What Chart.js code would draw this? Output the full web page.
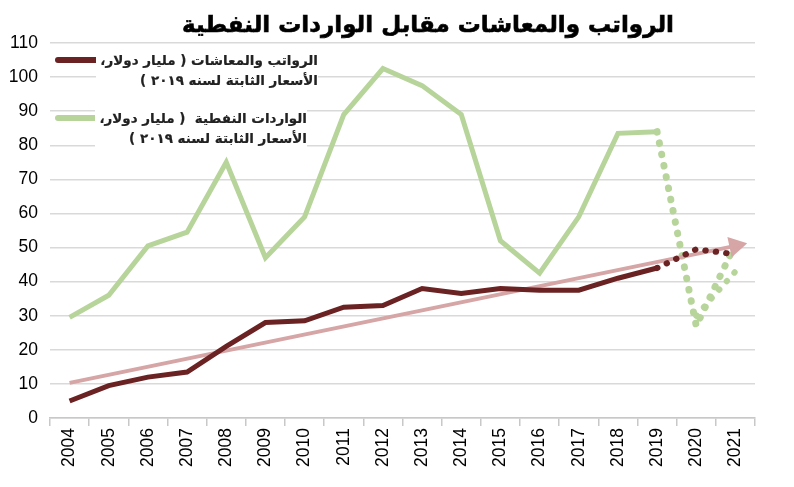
<!DOCTYPE html>
<html lang="ar">
<head>
  <meta charset="UTF-8" />
  <title>الرواتب والمعاشات مقابل الواردات النفطية</title>
  <script src="https://cdn.jsdelivr.net/npm/chart.js"></script>
  <style>
    body { margin: 0; background: #fff; }
    #wrap { position: relative; width: 794px; height: 487px; }
    #title {
      position: absolute; left: 0; width: 856px; top: 11px;
      text-align: center; font: bold 23px 'DejaVu Sans', sans-serif; color: #000;
      direction: rtl; -webkit-text-stroke: 0.6px #000;
    }
    .leg { position: absolute; font: bold 13.5px 'DejaVu Sans', sans-serif; color: #222;
           direction: rtl; text-align: right; line-height: 20px; background: #fff; padding-left: 4px;
           -webkit-text-stroke: 0.2px #222; }
    .sw { position: absolute; height: 6px; border-radius: 3px; }
  </style>
</head>
<body>
<div id="wrap">
  <canvas id="chart" width="794" height="487"></canvas>
  <div id="title">الرواتب والمعاشات مقابل الواردات النفطية</div>
  <div class="sw" style="left:55px;top:57px;width:49px;background:#6b2222"></div>
  <div class="leg" style="right:476px;top:50px">الرواتب والمعاشات ( مليار دولار،<br>الأسعار الثابتة لسنه ٢٠١٩ )</div>
  <div class="sw" style="left:55px;top:115px;width:49px;background:#b7d49b"></div>
  <div class="leg" style="right:487px;top:108px">الواردات النفطية&nbsp; ( مليار دولار،<br>الأسعار الثابتة لسنه ٢٠١٩ )</div>
</div>
<script>
  // categories and series
  const years = ['2004','2005','2006','2007','2008','2009','2010','2011','2012',
                 '2013','2014','2015','2016','2017','2018','2019','2020','2021'];
  const salaries = [5, 9.5, 12, 13.5, 21, 28, 28.5, 32.5, 33, 38, 36.5, 38, 37.5, 37.5, 41, 44, null, null];
  const salariesForecast = [null, null, null, null, null, null, null, null, null, null, null, null, null, null, null, 44, 49.5, 48];
  const oil = [29.5, 36, 50.5, 54.5, 75, 47, 59, 89, 102.5, 97.5, 89, 52, 42.5, 59, 83.5, 84, null, null];
  const oilForecast = [null, null, null, null, null, null, null, null, null, null, null, null, null, null, null, 84, 27, 51];
  const oilForecastLow = [null, null, null, null, null, null, null, null, null, null, null, null, null, null, null, null, 30, 43];
  const trend = [10.3, null, null, null, null, null, null, null, null, null, null, null, null, null, null, null, null, 50.5];
  const yTicks = [0, 10, 20, 30, 40, 50, 60, 70, 80, 90, 100, 110];

  const brown = '#6b2222', green = '#b7d49b', pink = '#d6a5a6';
  const dotted = { borderCapStyle: 'round', pointRadius: 0, fill: false, tension: 0 };

  new Chart(document.getElementById('chart'), {
    type: 'line',
    data: {
      labels: years,
      datasets: [
        { data: trend, borderColor: pink, backgroundColor: pink, borderWidth: 4, spanGaps: true,
          pointStyle: 'triangle', pointRadius: [0, ...Array(16).fill(0), 8],
          pointRotation: 78, order: 3 },
        { data: oilForecastLow, borderColor: green, borderWidth: 6, borderDash: [0.5, 11], ...dotted, order: 4 },
        { data: oilForecast, borderColor: green, borderWidth: 7, borderDash: [0.5, 11], ...dotted, order: 4 },
        { data: oil, borderColor: green, borderWidth: 5, pointRadius: 0, tension: 0, order: 5 },
        { data: salariesForecast, borderColor: brown, borderWidth: 6, borderDash: [0.5, 10], ...dotted, order: 1 },
        { data: salaries, borderColor: brown, borderWidth: 5, pointRadius: 0, tension: 0, order: 2 }
      ]
    },
    options: {
      responsive: false,
      animation: false,
      layout: { padding: { top: 43, right: 39, left: 0, bottom: 0 } },
      plugins: { legend: { display: false }, tooltip: { enabled: false } },
      scales: {
        x: {
          offset: true,
          afterFit: s => { s.height = 69; },
          grid: { offset: true, drawOnChartArea: false, drawTicks: true, tickLength: 8, color: '#c8c8c8', lineWidth: 1.5 },
          border: { display: true, color: '#c8c8c8', width: 1.5 },
          ticks: { minRotation: 90, maxRotation: 90, autoSkip: false, color: '#000', padding: 2,
                   font: { family: 'Liberation Sans', size: 17.5 } }
        },
        y: {
          min: 0, max: 110,
          afterFit: s => { s.width = 50; },
          afterBuildTicks: s => { s.ticks = yTicks.map(v => ({ value: v })); },
          grid: { color: '#d9d9d9', lineWidth: 1.5, drawTicks: false },
          border: { display: false },
          ticks: { color: '#000', padding: 12, font: { family: 'Liberation Sans', size: 17.5 } }
        }
      }
    }
  });
</script>
</body>
</html>
